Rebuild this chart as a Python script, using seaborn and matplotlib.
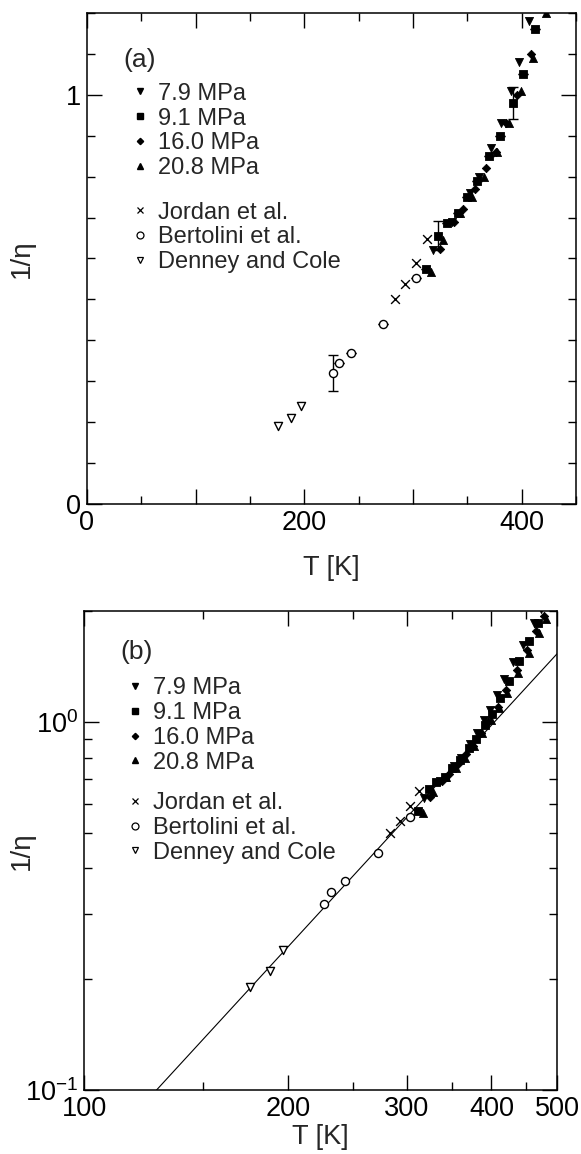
import numpy as np
import matplotlib
matplotlib.use("Agg")
import matplotlib.pyplot as plt
import matplotlib.ticker as mticker
from matplotlib.lines import Line2D
import seaborn as sns

sns.set_theme(style="ticks")
plt.rcParams["font.family"] = ["Liberation Sans", "DejaVu Sans"]
plt.rcParams["mathtext.fontset"] = "custom"
plt.rcParams["mathtext.rm"] = "Liberation Sans"

# ---- measured data: temperature [K] and inverse viscosity 1/eta ----
T_79 = [318, 336, 352, 361, 372, 381, 390, 398, 407, 418, 431, 446, 462, 474]
v_79 = [0.62, 0.69, 0.76, 0.80, 0.87, 0.93, 1.01, 1.08, 1.18, 1.31, 1.45, 1.62, 1.85, 2.02]

T_91 = [312, 323, 331, 341, 350, 359, 370, 380, 392, 401, 412, 425, 440, 455, 468]
v_91 = [0.574, 0.656, 0.687, 0.71, 0.75, 0.79, 0.85, 0.90, 0.98, 1.05, 1.16, 1.29, 1.46, 1.66, 1.86]
e_91 = [0.0, 0.035, 0.0, 0.0, 0.0, 0.0, 0.0, 0.0, 0.04, 0.0, 0.0, 0.0, 0.0, 0.0, 0.0]

T_160 = [325, 338, 346, 357, 367, 376, 386, 396, 409, 421, 436, 452, 466, 478]
v_160 = [0.624, 0.69, 0.72, 0.77, 0.82, 0.86, 0.93, 1.00, 1.10, 1.22, 1.38, 1.57, 1.76, 1.94]

T_208 = [317, 328, 343, 354, 365, 377, 388, 399, 410, 422, 438, 454, 470, 481]
v_208 = [0.566, 0.644, 0.71, 0.75, 0.80, 0.86, 0.93, 1.01, 1.09, 1.20, 1.36, 1.54, 1.74, 1.90]

T_jordan = [283, 293, 303, 313]
v_jordan = [0.50, 0.537, 0.589, 0.648]

T_bert = [226, 232, 243, 272, 303]
v_bert = [0.32, 0.345, 0.37, 0.44, 0.552]
e_bert = [0.045, 0.0, 0.0, 0.0, 0.0]

T_denney = [176, 188, 197]
v_denney = [0.19, 0.21, 0.24]

# power-law guide line (slope 2 on log-log axes)
T_fit = [128, 500]
v_fit = [0.10, 1.53]

pressure_sets = [
    ("7.9 MPa", T_79, v_79, "v"),
    ("9.1 MPa", T_91, v_91, "s"),
    ("16.0 MPa", T_160, v_160, "D"),
    ("20.8 MPa", T_208, v_208, "^"),
]
literature_sets = [
    ("Jordan et al.", T_jordan, v_jordan, "x"),
    ("Bertolini et al.", T_bert, v_bert, "o"),
    ("Denney and Cole", T_denney, v_denney, "v"),
]

msize = {"v": 34, "s": 28, "D": 18, "^": 34, "o": 34}
LEG_FS = 17


def draw_points(ax):
    for label, T, v, m in pressure_sets:
        sns.scatterplot(x=T, y=v, marker=m, s=msize[m], color="black",
                        edgecolor="black", linewidth=0.6, ax=ax, legend=False,
                        zorder=3)
    for label, T, v, m in literature_sets:
        if m == "x":
            sns.scatterplot(x=T, y=v, marker="x", s=40, color="black",
                            linewidth=1.0, ax=ax, legend=False, zorder=3)
        else:
            sns.scatterplot(x=T, y=v, marker=m, s=msize[m], facecolor="white",
                            edgecolor="black", linewidth=1.0, ax=ax,
                            legend=False, zorder=3)


def add_legends(ax, x0, y_top1, y_top2):
    h1 = [Line2D([], [], ls="none", marker=m, color="black",
                 markersize=4.2 if m != "D" else 3.2, label=label)
          for label, T, v, m in pressure_sets]
    h2 = []
    for label, T, v, m in literature_sets:
        if m == "x":
            h2.append(Line2D([], [], ls="none", marker="x", color="black",
                             markersize=5, mew=0.9, label=label))
        else:
            h2.append(Line2D([], [], ls="none", marker=m,
                             markerfacecolor="white", markeredgecolor="black",
                             markersize=5, mew=0.9, label=label))
    kw = dict(loc="upper left", frameon=False, fontsize=LEG_FS,
              handlelength=0.6, handletextpad=0.47, labelspacing=0.12,
              borderaxespad=0.0, borderpad=0.0)
    leg1 = ax.legend(handles=h1, bbox_to_anchor=(x0, y_top1), **kw)
    ax.add_artist(leg1)
    ax.legend(handles=h2, bbox_to_anchor=(x0, y_top2), **kw)


def style_axes(ax):
    for s in ax.spines.values():
        s.set_linewidth(1.1)
        s.set_color("black")
    ax.tick_params(which="both", direction="in", top=True, right=True,
                   colors="black", labelsize=19.5, width=1.0)
    ax.tick_params(which="major", length=11, pad=4)
    ax.tick_params(which="minor", length=5.5)


fig = plt.figure(figsize=(5.81, 11.54), dpi=100)

# ---- (a) linear axes ----
ax1 = fig.add_axes([87 / 581, 1 - 504 / 1154, 489 / 581, 491 / 1154])
draw_points(ax1)
ax1.errorbar(T_91, v_91, yerr=e_91, fmt="none", ecolor="black",
             elinewidth=1.0, capsize=3.5, capthick=1.0, zorder=2)
ax1.errorbar(T_bert, v_bert, yerr=e_bert, fmt="none", ecolor="black",
             elinewidth=1.0, capsize=3.5, capthick=1.0, zorder=2)
ax1.set_xlim(0, 450)
ax1.set_ylim(0, 1.2)
ax1.xaxis.set_major_locator(mticker.MultipleLocator(100))
ax1.xaxis.set_major_formatter(
    mticker.FuncFormatter(lambda x, p: f"{x:.0f}" if x % 200 == 0 else ""))
ax1.xaxis.set_minor_locator(mticker.MultipleLocator(50))
ax1.yaxis.set_major_locator(mticker.MultipleLocator(1))
ax1.yaxis.set_minor_locator(mticker.MultipleLocator(0.1))
style_axes(ax1)
ax1.set_xlabel("T [K]", fontsize=19.5, labelpad=14)
ax1.set_ylabel("1/η", fontsize=20)
ax1.yaxis.set_label_coords(-0.106, 0.5)
ax1.text(0.074, 0.904, "(a)", transform=ax1.transAxes, fontsize=19,
         va="center", ha="left")
add_legends(ax1, 0.094, 0.858, 0.616)

# ---- (b) log-log axes ----
ax2 = fig.add_axes([84 / 581, 1 - 1090 / 1154, 473 / 581, 479 / 1154])
ax2.set_xscale("log")
ax2.set_yscale("log")
sns.lineplot(x=T_fit, y=v_fit, color="black", linewidth=0.8, ax=ax2,
             zorder=1)
draw_points(ax2)
ax2.set_xlim(100, 500)
ax2.set_ylim(0.1, 2.0)
ax2.xaxis.set_major_locator(mticker.FixedLocator([100, 200, 300, 400, 500]))
ax2.xaxis.set_major_formatter(
    mticker.FixedFormatter(["100", "200", "300", "400", "500"]))
ax2.xaxis.set_minor_locator(mticker.FixedLocator([150, 250, 350, 450]))
ax2.xaxis.set_minor_formatter(mticker.NullFormatter())
ax2.yaxis.set_major_locator(mticker.LogLocator(base=10))
ax2.yaxis.set_major_formatter(mticker.LogFormatterMathtext())
ax2.yaxis.set_minor_locator(mticker.LogLocator(base=10, subs=np.arange(2, 10)))
ax2.yaxis.set_minor_formatter(mticker.NullFormatter())
style_axes(ax2)
ax2.set_xlabel("T [K]", fontsize=19.5, labelpad=2)
ax2.set_ylabel("1/η", fontsize=20)
ax2.yaxis.set_label_coords(-0.104, 0.5)
ax2.text(0.076, 0.914, "(b)", transform=ax2.transAxes, fontsize=19,
         va="center", ha="left")
add_legends(ax2, 0.093, 0.862, 0.622)

fig.savefig("out.png", dpi=100)
